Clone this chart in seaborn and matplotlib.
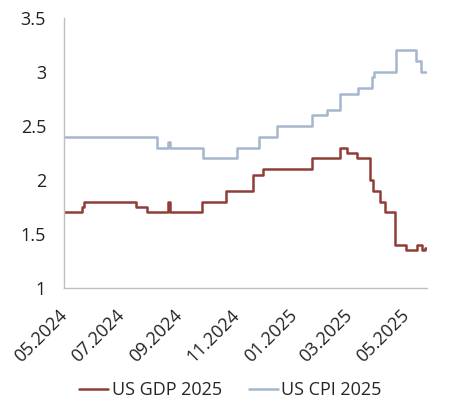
import pandas as pd
import seaborn as sns
import matplotlib.pyplot as plt
import matplotlib.dates as mdates
import matplotlib.transforms as mtransforms
from matplotlib.ticker import FuncFormatter

# === Data (step changes) ===
gdp_dates = ["2024-05-01", "2024-05-20", "2024-05-22", "2024-07-17", "2024-07-28",
             "2024-08-20", "2024-08-22", "2024-09-25", "2024-10-21", "2024-11-19",
             "2024-11-29", "2025-01-20", "2025-02-19", "2025-02-27", "2025-03-09",
             "2025-03-23", "2025-03-26", "2025-04-03", "2025-04-08", "2025-04-19",
             "2025-05-01", "2025-05-12", "2025-05-18", "2025-05-21", "2025-05-23"]
gdp_values = [1.7, 1.75, 1.8, 1.75, 1.7,
              1.8, 1.7, 1.8, 1.9, 2.05,
              2.1, 2.2, 2.3, 2.25, 2.2,
              2.0, 1.9, 1.8, 1.7, 1.4,
              1.35, 1.4, 1.35, 1.37, 1.37]

cpi_dates = ["2024-05-01", "2024-08-08", "2024-08-20", "2024-08-22", "2024-09-26",
             "2024-11-01", "2024-11-25", "2024-12-14", "2025-01-20", "2025-02-05",
             "2025-02-19", "2025-03-10", "2025-03-25", "2025-03-28", "2025-04-20",
             "2025-05-11", "2025-05-17", "2025-05-23"]
cpi_values = [2.4, 2.3, 2.35, 2.3, 2.2,
              2.3, 2.4, 2.5, 2.6, 2.65,
              2.8, 2.85, 2.95, 3.0, 3.2,
              3.1, 3.0, 3.0]

gdp_color = "#8e3d37"
cpi_color = "#a5b6cf"

sns.set_style("white")
plt.rcParams['font.family'] = ['Open Sans', 'DejaVu Sans']

fig = plt.figure(figsize=(4.61, 4.19), dpi=100)
ax = fig.add_axes([0.139, 0.313, 0.787, 0.644])

sns.lineplot(x=pd.to_datetime(gdp_dates), y=gdp_values, ax=ax, color=gdp_color,
             linewidth=1.8, drawstyle="steps-post", label="US GDP 2025")
sns.lineplot(x=pd.to_datetime(cpi_dates), y=cpi_values, ax=ax, color=cpi_color,
             linewidth=1.8, drawstyle="steps-post", label="US CPI 2025")

ax.set_xlim(pd.Timestamp("2024-05-01"), pd.Timestamp("2025-05-23"))
ax.set_ylim(1, 3.5)
ax.set_yticks([1, 1.5, 2, 2.5, 3, 3.5])
ax.yaxis.set_major_formatter(FuncFormatter(lambda v, _: f"{v:g}"))
ax.xaxis.set_major_locator(mdates.MonthLocator(bymonth=[1, 3, 5, 7, 9, 11]))
ax.xaxis.set_major_formatter(mdates.DateFormatter("%m.%Y"))

ax.tick_params(length=0, labelsize=13, colors="#222222")
ax.tick_params(axis="y", pad=13)
ax.tick_params(axis="x", pad=13)

# shift rotated date labels a little to the left
shift = mtransforms.ScaledTranslation(-6 / 100, 0, fig.dpi_scale_trans)
for lbl in ax.get_xticklabels():
    lbl.set_rotation(45)
    lbl.set_ha("right")
    lbl.set_rotation_mode("anchor")
    lbl.set_transform(lbl.get_transform() + shift)

for s in ["top", "right"]:
    ax.spines[s].set_visible(False)
for s in ["left", "bottom"]:
    ax.spines[s].set_color("#bfbfbf")
    ax.spines[s].set_linewidth(1)
ax.set_xlabel("")
ax.set_ylabel("")

ax.legend(loc="center", bbox_to_anchor=(0.5, 0.069), bbox_transform=fig.transFigure,
          ncol=2, frameon=False, fontsize=13, handlelength=1.6, handletextpad=0.2,
          columnspacing=1.5)

fig.savefig("out.png", dpi=100)
